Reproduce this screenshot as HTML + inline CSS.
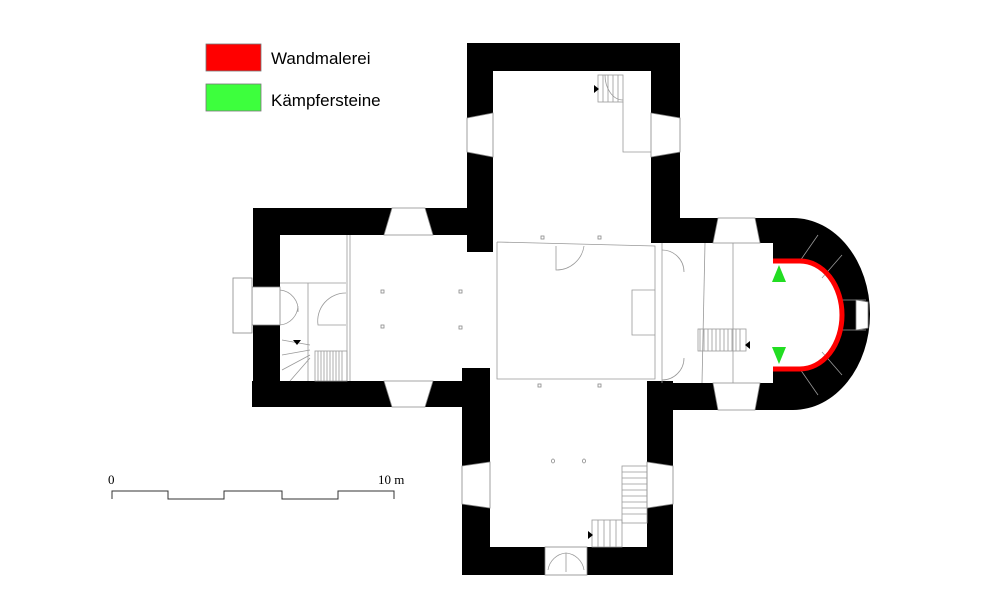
<!DOCTYPE html>
<html><head><meta charset="utf-8"><style>
html,body{margin:0;padding:0;background:#fff}
svg{display:block}
.s{font-family:"Liberation Sans",sans-serif}
.r{font-family:"Liberation Serif",serif}
</style></head><body>
<svg width="1000" height="594" viewBox="0 0 1000 594" xmlns="http://www.w3.org/2000/svg">
<rect width="1000" height="594" fill="#fff"/>
<!-- legend -->
<rect x="206" y="44" width="55" height="27" fill="#ff0000" stroke="#777" stroke-width="0.8"/>
<rect x="206" y="84" width="55" height="27" fill="#3dff3d" stroke="#777" stroke-width="0.8"/>
<text class="s" x="271" y="64" font-size="17" fill="#000">Wandmalerei</text>
<text class="s" x="271" y="106" font-size="17" fill="#000">Kämpfersteine</text>
<!-- scale -->
<g fill="none" stroke="#333" stroke-width="1">
<polyline points="112,499 112,491 168,491 168,499 224,499 224,491 282,491 282,499 338,499 338,491 394,491 394,499"/>
</g>
<text class="r" x="108" y="484" font-size="13" fill="#000">0</text>
<text class="r" x="378" y="484" font-size="13" fill="#000">10 m</text>

<!-- walls -->
<g fill="#000">
<rect x="255" y="208" width="212" height="27"/>
<rect x="252" y="381" width="214" height="26"/>
<rect x="253" y="208" width="27" height="199"/>
<rect x="467" y="43" width="26" height="209"/>
<rect x="467" y="43" width="213" height="28"/>
<rect x="651" y="43" width="29" height="200"/>
<rect x="651" y="218" width="142" height="25"/>
<rect x="647" y="383" width="146" height="27"/>
<rect x="462" y="368" width="28" height="207"/>
<rect x="647" y="381" width="26" height="194"/>
<rect x="462" y="547" width="211" height="28"/>
<path d="M773,218 L793,218 A77,96 0 0 1 793,410 L773,410 L773,369 L800,369 A42,54 0 0 0 800,261 L773,261 Z"/>
</g>
<!-- apse joints -->
<g stroke="#999" stroke-width="0.8">
<line x1="800" y1="261" x2="818" y2="235"/>
<line x1="822" y1="278" x2="842" y2="255"/>
<line x1="840" y1="300" x2="866" y2="300"/>
<line x1="840" y1="330" x2="866" y2="330"/>
<line x1="822" y1="352" x2="842" y2="375"/>
<line x1="800" y1="369" x2="818" y2="395"/>
</g>
<path d="M773,261 L800,261 A42,54 0 0 1 800,369 L773,369" fill="none" stroke="#ff0000" stroke-width="5"/>
<polygon points="779,265 786,282 772,282" fill="#22dd22"/>
<polygon points="772,347 786,347 779,364" fill="#22dd22"/>

<!-- windows -->
<g fill="#fff" stroke="#888" stroke-width="0.8">
<polygon points="392,208 425,208 433,235 384,235"/>
<polygon points="384,381 433,381 425,407 392,407"/>
<polygon points="467,118 493,113 493,157 467,152"/>
<polygon points="651,113 680,118 680,152 651,157"/>
<polygon points="718,218 755,218 760,243 713,243"/>
<polygon points="713,383 760,383 755,410 718,410"/>
<polygon points="462,466 490,462 490,508 462,504"/>
<polygon points="647,462 673,466 673,504 647,508"/>
<rect x="545" y="547" width="42" height="28"/>
<polygon points="856,300 868,302 868,328 856,330"/>
<rect x="252" y="287" width="28" height="38"/>
<rect x="233" y="278" width="19" height="55"/>
</g>
<!-- interior thin lines -->
<g fill="none" stroke="#999" stroke-width="0.8">
<polyline points="497,242 655,246 655,379 497,379 497,242"/>
<line x1="347" y1="235" x2="347" y2="381"/>
<line x1="350" y1="235" x2="350" y2="381"/>
<line x1="662" y1="243" x2="662" y2="383"/>
<line x1="705" y1="243" x2="702" y2="383"/>
<line x1="733" y1="243" x2="733" y2="383"/>
<polyline points="655,290 632,290 632,335 655,335"/>
<line x1="280" y1="283" x2="346" y2="283"/>
<line x1="308" y1="283" x2="308" y2="381"/>
<path d="M346,293 A28,28 0 0 0 318,325 L346,325"/>
<path d="M280,290 A20,20 0 0 1 298,312 M280,325 A20,20 0 0 0 298,306"/>
<path d="M556,246 L556,270 A28,28 0 0 0 584,246"/>
<path d="M662,250 A22,22 0 0 1 684,272 M662,380 A22,22 0 0 0 684,358"/>
<rect x="698" y="329" width="48" height="22"/>
<path d="M700,329v22M704,329v22M708,329v22M712,329v22M716,329v22M720,329v22M724,329v22M728,329v22M732,329v22M736,329v22M740,329v22"/>
<rect x="315" y="351" width="32" height="30"/>
<path d="M318,351v30M321,351v30M324,351v30M327,351v30M330,351v30M333,351v30M336,351v30M339,351v30M342,351v30"/>
<path d="M282,340 L310,345 M282,355 L310,350 M282,370 L310,355 M290,381 L310,358"/>
<rect x="598" y="75" width="25" height="27"/>
<path d="M603,75v27M608,75v27M613,75v27M618,75v27"/>
<path d="M605,75 A18,25 0 0 0 623,100"/>
<polyline points="623,102 623,152 651,152"/>
<rect x="622" y="466" width="25" height="57"/>
<path d="M622,472h25M622,478h25M622,484h25M622,490h25M622,496h25M622,502h25M622,508h25M622,514h25"/>
<rect x="592" y="520" width="30" height="27"/>
<path d="M598,520v27M604,520v27M610,520v27M616,520v27"/>
<path d="M566,572 L566,553 A20,20 0 0 0 548,570 M566,572 L566,553 A20,20 0 0 1 584,570"/>
</g>
<!-- pillars -->
<g fill="none" stroke="#888" stroke-width="0.8">
<rect x="381" y="290" width="3" height="3"/><rect x="459" y="290" width="3" height="3"/>
<rect x="381" y="325" width="3" height="3"/><rect x="459" y="326" width="3" height="3"/>
<rect x="541" y="236" width="3" height="3"/><rect x="598" y="236" width="3" height="3"/>
<rect x="538" y="384" width="3" height="3"/><rect x="598" y="384" width="3" height="3"/>
<ellipse cx="553" cy="461" rx="1.5" ry="2"/><ellipse cx="584" cy="461" rx="1.5" ry="2"/>
</g>
<!-- arrows -->
<g fill="#000">
<polygon points="594,85 594,93 599,89"/>
<polygon points="293,340 301,340 297,345"/>
<polygon points="750,341 745,345 750,349"/>
<polygon points="588,531 588,539 593,535"/>
</g>
</svg>
</body></html>
